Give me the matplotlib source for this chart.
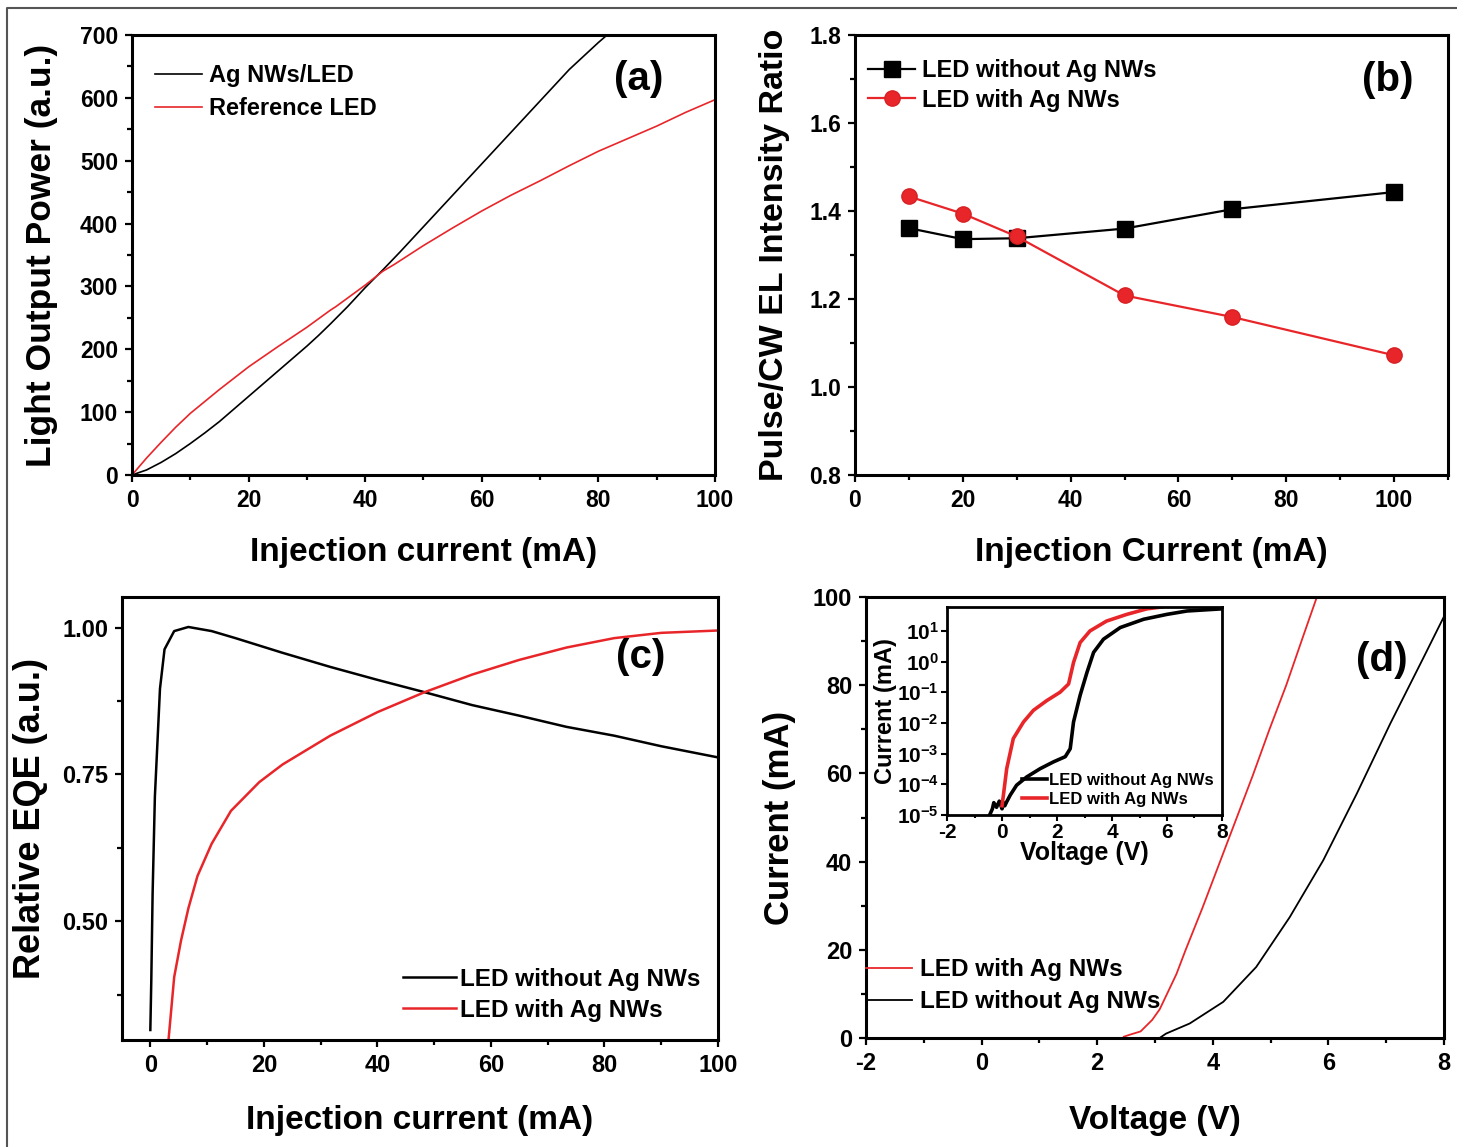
import matplotlib.pyplot as plt
from matplotlib.lines import Line2D
from matplotlib.ticker import MultipleLocator, FixedLocator, NullLocator
import numpy as np

plt.rcParams.update({
    'font.family': ['Liberation Sans', 'DejaVu Sans'],
    'font.weight': 'bold',
    'font.size': 16,
    'axes.labelweight': 'bold',
    'axes.linewidth': 2.2,
    'axes.unicode_minus': False,
    'mathtext.fontset': 'custom',
    'mathtext.rm': 'Liberation Sans:bold',
    'mathtext.bf': 'Liberation Sans:bold',
    'mathtext.default': 'bf',
})

RED = '#e8262a'

# (a) light output power vs injection current
a_cur_ag = [0, 2.5, 5, 7.5, 10, 12.5, 15, 17.5, 20, 22.5, 25, 27.5, 30, 32, 34, 37, 40, 43, 46, 50, 55, 60,
            65, 70, 75, 80, 81.5]
a_pow_ag = [0, 8, 20, 34, 50, 67, 85, 105, 125, 145, 165, 185, 205, 222, 240, 268, 298, 326, 355, 395, 445,
            495, 545, 595, 645, 688, 700]
a_cur_ref = [0, 2.5, 5, 7.5, 10, 15, 20, 25, 30, 34, 35, 40, 43, 45, 50, 55, 60, 65, 70, 75, 80, 85, 90, 95,
             100]
a_pow_ref = [0, 27, 52, 76, 98, 136, 172, 204, 235, 262, 268, 302, 324, 335, 365, 393, 420, 445, 468, 492,
             515, 535, 555, 577, 597]

# (b) pulse / CW EL intensity ratio
b_cur = [10, 20, 30, 50, 70, 100]
b_without = [1.361, 1.336, 1.338, 1.360, 1.404, 1.443]
b_with = [1.433, 1.394, 1.342, 1.208, 1.159, 1.072]

# (c) relative EQE
c_cur_without = [0.0, 0.17, 0.4, 0.8, 1.7, 2.5, 4.2, 6.7, 10.8, 15, 23.3, 31.7, 40, 48.3, 56.7, 65, 73.3,
                 81.7, 90, 100]
c_eqe_without = [0.315, 0.40, 0.547, 0.712, 0.896, 0.963, 0.994, 1.001, 0.994, 0.982, 0.957, 0.933, 0.911,
                 0.890, 0.868, 0.850, 0.831, 0.816, 0.798, 0.779]
c_cur_with = [3.2, 4.2, 5.4, 6.7, 8.3, 10.8, 14.2, 19.2, 23.3, 31.7, 40, 48.3, 56.7, 65, 73.3, 81.7, 90, 100]
c_eqe_with = [0.298, 0.405, 0.467, 0.522, 0.577, 0.632, 0.688, 0.737, 0.767, 0.816, 0.856, 0.890, 0.920,
              0.945, 0.966, 0.982, 0.991, 0.995]

# (d) I-V curves, linear scale
d_v_with = [2.46, 2.55, 2.75, 2.95, 3.08, 3.24, 3.37, 3.53, 3.82, 4.11, 4.40, 4.69, 4.98, 5.27, 5.56, 5.80]
d_i_with = [0.3, 0.7, 1.5, 4.1, 6.5, 10.9, 14.5, 20.0, 29.5, 39.5, 49.5, 59.5, 70.0, 80.0, 91.0, 100.0]
d_v_without = [3.10, 3.19, 3.60, 4.18, 4.75, 5.33, 5.91, 6.49, 7.07, 7.65, 8.0]
d_i_without = [0.2, 1.0, 3.3, 8.2, 16.1, 27.4, 40.3, 55.4, 71.3, 86.4, 95.6]

# (d) inset, log10 of current (mA)
ins_v_with = [0.0, 0.05, 0.17, 0.41, 0.78, 1.14, 1.63, 2.11, 2.42, 2.6, 2.84, 3.2, 3.8, 4.54, 5.27, 5.8]
ins_log_with = [-4.7, -4.35, -3.49, -2.51, -1.97, -1.59, -1.27, -1.0, -0.73, -0.03, 0.62, 1.0, 1.32, 1.54,
                1.72, 1.78]
ins_v_without = [-0.45, -0.35, -0.3, -0.2, -0.1, 0.0, 0.05, 0.1, 0.17, 0.3, 0.53, 0.9, 1.39, 1.87, 2.3, 2.48,
                 2.6, 2.84, 3.09, 3.33, 3.69, 4.3, 5.15, 6.0, 6.73, 8.0]
ins_log_without = [-5.0, -4.8, -4.6, -4.75, -4.55, -4.8, -4.6, -4.7, -4.57, -4.35, -4.03, -3.76, -3.49, -3.27,
                   -3.1, -2.84, -1.97, -1.1, -0.35, 0.3, 0.73, 1.11, 1.38, 1.54, 1.65, 1.72]
ins_decades = [-5, -4, -3, -2, -1, 0, 1]


def style_axis(ax, xmaj, xmin, ymaj, ymin, labelsize=16.5):
    ax.xaxis.set_major_locator(MultipleLocator(xmaj))
    ax.xaxis.set_minor_locator(MultipleLocator(xmin))
    ax.yaxis.set_major_locator(MultipleLocator(ymaj))
    ax.yaxis.set_minor_locator(MultipleLocator(ymin))
    ax.tick_params(which='major', direction='out', length=5, width=1.6, labelsize=labelsize, pad=5)
    ax.tick_params(which='minor', direction='out', length=3.5, width=1.6)
    ax.tick_params(top=False, right=False)


def panel_letter(ax, s, x, y):
    ax.text(x, y, s, transform=ax.transAxes, fontsize=29, ha='center', va='center')


fig = plt.figure(figsize=(14.57, 11.47), dpi=100)

# thin frame round the figure
fig.add_artist(Line2D([7 / 1457, 7 / 1457, 1.0], [0.0, 1 - 8 / 1147, 1 - 8 / 1147],
                      transform=fig.transFigure, color='#555555', lw=1.5))

leg_kw = dict(frameon=False, borderaxespad=0.0, borderpad=0.0)

# (a)
ax = fig.add_axes([0.0906, 0.5859, 0.4001, 0.3836])
ax.plot(a_cur_ag, a_pow_ag, color='black', lw=1.2, label='Ag NWs/LED')
ax.plot(a_cur_ref, a_pow_ref, color=RED, lw=1.2, label='Reference LED')
ax.set_xlim(0, 100)
ax.set_ylim(0, 700)
style_axis(ax, 20, 10, 100, 50)
ax.set_xlabel('Injection current (mA)', fontsize=24, labelpad=18)
ax.set_ylabel('Light Output Power (a.u.)', fontsize=25.5, labelpad=16)
ax.legend(loc='upper left', bbox_to_anchor=(0.039, 0.933), fontsize=17, handlelength=2.0,
          handletextpad=0.3, labelspacing=0.4, **leg_kw)
panel_letter(ax, '(a)', 0.87, 0.90)

# (b)
ax = fig.add_axes([0.5868, 0.5859, 0.4070, 0.3836])
ax.plot(b_cur, b_without, color='black', lw=1.6, marker='s', ms=11, label='LED without Ag NWs')
ax.plot(b_cur, b_with, color=RED, lw=1.6, marker='o', ms=11, mec='#d81f23', mfc=RED,
        label='LED with Ag NWs')
ax.set_xlim(0, 110)
ax.set_ylim(0.8, 1.8)
style_axis(ax, 20, 10, 0.2, 0.1)
ax.set_xlabel('Injection Current (mA)', fontsize=24, labelpad=18)
ax.set_ylabel('Pulse/CW EL Intensity Ratio', fontsize=24.5, labelpad=14)
ax.legend(loc='upper left', bbox_to_anchor=(0.022, 0.945), fontsize=17, handlelength=2.0,
          handletextpad=0.3, labelspacing=0.27, **leg_kw)
panel_letter(ax, '(b)', 0.899, 0.898)

# (c)
ax = fig.add_axes([0.0837, 0.0933, 0.4091, 0.3862])
ax.plot(c_cur_without, c_eqe_without, color='black', lw=1.8, label='LED without Ag NWs')
ax.plot(c_cur_with, c_eqe_with, color=RED, lw=1.8, label='LED with Ag NWs')
ax.set_xlim(-5, 100)
ax.set_ylim(0.298, 1.052)
style_axis(ax, 20, 10, 0.25, 0.125, labelsize=17)
ax.yaxis.set_major_formatter(plt.FormatStrFormatter('%.2f'))
ax.set_xlabel('Injection current (mA)', fontsize=24, labelpad=20)
ax.set_ylabel('Relative EQE (a.u.)', fontsize=26, labelpad=10)
ax.legend(loc='lower left', bbox_to_anchor=(0.471, 0.041), fontsize=17.5, handlelength=2.2,
          handletextpad=0.15, labelspacing=0.33, **leg_kw)
panel_letter(ax, '(c)', 0.87, 0.865)

# (d)
ax = fig.add_axes([0.5944, 0.0950, 0.3967, 0.3845])
ax.plot(d_v_with, d_i_with, color=RED, lw=1.3, label='LED with Ag NWs')
ax.plot(d_v_without, d_i_without, color='black', lw=1.3, label='LED without Ag NWs')
ax.set_xlim(-2, 8)
ax.set_ylim(0, 100)
style_axis(ax, 2, 1, 20, 10, labelsize=17)
ax.set_xlabel('Voltage (V)', fontsize=24, labelpad=22)
ax.set_ylabel('Current (mA)', fontsize=25, labelpad=12)
ax.legend(loc='lower left', bbox_to_anchor=(0.0, 0.056), fontsize=17.5, handlelength=1.9,
          handletextpad=0.3, labelspacing=0.38, **leg_kw)
panel_letter(ax, '(d)', 0.893, 0.857)

# (d) inset, semilog
ins = fig.add_axes([0.650, 0.2895, 0.1887, 0.1813])
ins.semilogy(ins_v_without, [10 ** v for v in ins_log_without], color='black', lw=2.6,
             label='LED without Ag NWs')
ins.semilogy(ins_v_with, [10 ** v for v in ins_log_with], color=RED, lw=2.6, label='LED with Ag NWs')
ins.set_xlim(-2, 8)
ins.set_ylim(1e-5, 10 ** 1.78)
ins.xaxis.set_major_locator(MultipleLocator(2))
ins.xaxis.set_minor_locator(MultipleLocator(1))
ins.yaxis.set_major_locator(FixedLocator([10.0 ** d for d in ins_decades]))
ins.yaxis.set_minor_locator(NullLocator())
ins.set_yticklabels(['$10^{%d}$' % d for d in ins_decades])
ins.tick_params(which='major', direction='out', length=4, width=1.5, labelsize=15, pad=2)
ins.tick_params(which='minor', direction='out', length=2.5, width=1.5)
for sp in ins.spines.values():
    sp.set_linewidth(2.0)
ins.set_xlabel('Voltage (V)', fontsize=18, labelpad=-1)
ins.set_ylabel('Current (mA)', fontsize=17, labelpad=0)
ins.legend(loc='lower right', frameon=False, fontsize=12, handlelength=1.5, handletextpad=0.1,
           borderaxespad=0.1, labelspacing=0.2)

fig.savefig('out.png', dpi=100)
